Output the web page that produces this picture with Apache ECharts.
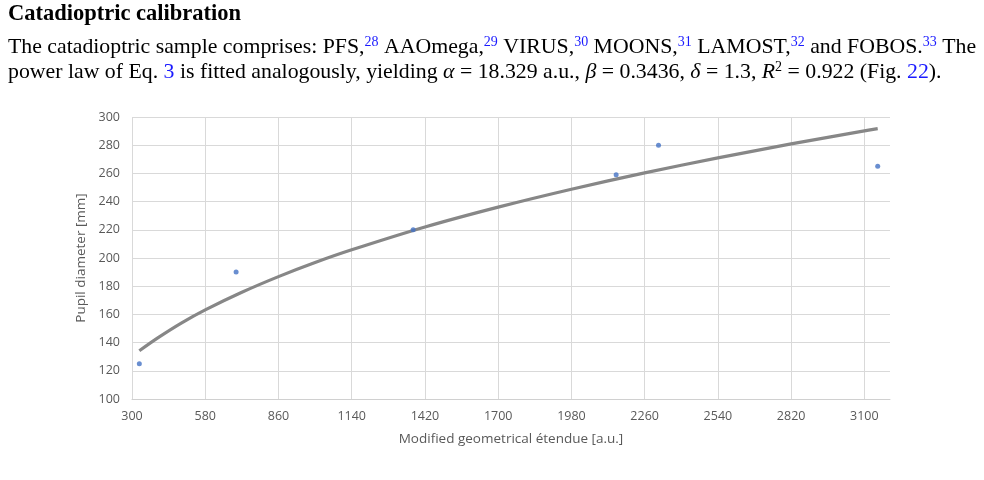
<!DOCTYPE html>
<html>
<head>
<meta charset="utf-8">
<title>Catadioptric calibration</title>
<script src="https://cdn.jsdelivr.net/npm/echarts@6/dist/echarts.min.js"></script>
<style>
  html, body { margin: 0; padding: 0; background: #fff; }
  #chart { width: 984px; height: 480px; }
</style>
</head>
<body>
<div id="chart"></div>
<script>
// measured spectrograph points
const etendue = [328, 698, 1375, 2151, 2313, 3151]
const pupil = [125, 190, 220, 259, 280, 265]
// power-law trend line
const trendX = [328, 400, 490, 580, 720, 860, 1000, 1140, 1420, 1700, 1980, 2260, 2540, 2820, 3100, 3151]
const trendY = [134.2, 143.5, 154.0, 163.2, 175.7, 186.8, 196.8, 205.8, 222.0, 236.1, 248.8, 260.4, 271.0, 280.9, 290.2, 291.8]

const chart = echarts.init(document.getElementById('chart'))

const axisFont = 'Open Sans'
const labelColor = '#595959'
const blue = '#1a1aff'
const serif = 'Liberation Serif'

const option = {
  animation: false,
  backgroundColor: '#fff',
  grid: { left: 132, right: 94, top: 117, bottom: 81 },
  xAxis: {
    type: 'value',
    min: 300,
    max: 3198,
    interval: 280,
    name: 'Modified geometrical étendue [a.u.]',
    nameLocation: 'middle',
    nameGap: 33,
    nameTextStyle: { color: labelColor, fontFamily: axisFont, fontSize: 13.5 },
    axisLine: { show: true, lineStyle: { color: '#d0d0d0', width: 1 } },
    axisTick: { show: false },
    axisLabel: {
      color: labelColor, fontFamily: axisFont, fontSize: 12.5, margin: 11, showMaxLabel: false,
      formatter: v => String(v)
    },
    splitLine: { show: true, showMaxLine: false, lineStyle: { color: '#d9d9d9', width: 1 } }
  },
  yAxis: {
    type: 'value',
    min: 100,
    max: 300,
    interval: 20,
    name: 'Pupil diameter [mm]',
    nameLocation: 'middle',
    nameGap: 37,
    nameTextStyle: { color: labelColor, fontFamily: axisFont, fontSize: 13.5 },
    axisLine: { show: false },
    axisTick: { show: false },
    axisLabel: { color: labelColor, fontFamily: axisFont, fontSize: 12.5, margin: 12 },
    splitLine: { show: true, lineStyle: { color: '#d9d9d9', width: 1 } }
  },
  series: [
    {
      type: 'line',
      data: trendX.map((x, i) => [x, trendY[i]]),
      smooth: 0.3,
      showSymbol: false,
      lineStyle: { color: '#878787', width: 3.2 },
      z: 2
    },
    {
      type: 'scatter',
      data: etendue.map((x, i) => [x, pupil[i]]),
      symbolSize: 5,
      itemStyle: { color: '#4472c4' },
      z: 3
    }
  ],
  graphic: [
    {
      type: 'text',
      left: 8,
      top: 3,
      style: {
        text: 'Catadioptric calibration',
        font: 'bold 22.5px "Liberation Serif"',
        fill: '#000'
      }
    },
    {
      type: 'text',
      left: 8,
      top: 35,
      style: {
        text: 'The catadioptric sample comprises: PFS,{s|28} AAOmega,{s|29} VIRUS,{s|30} MOONS,{s|31} LAMOST,{s|32} and FOBOS.{s|33} The\n' +
              'power law of Eq. {l|3} is fitted analogously, yielding {i|α} = 18.329 a.u., {i|β} = 0.3436, {i|δ} = 1.3, {i|R}{k|2} = 0.922 (Fig. {l|22}).',
        fontFamily: serif,
        fontSize: 21.8,
        lineHeight: 25,
        fill: '#000',
        rich: {
          s: { fontFamily: serif, fontSize: 14, fill: blue, verticalAlign: 'top', lineHeight: 25 },
          k: { fontFamily: serif, fontSize: 14, fill: '#000', verticalAlign: 'top', lineHeight: 25 },
          l: { fontFamily: serif, fontSize: 21.8, fill: blue, lineHeight: 25 },
          i: { fontFamily: serif, fontSize: 21.8, fontStyle: 'italic', fill: '#000', lineHeight: 25 }
        }
      }
    }
  ]
}

chart.setOption(option)
</script>
</body>
</html>
